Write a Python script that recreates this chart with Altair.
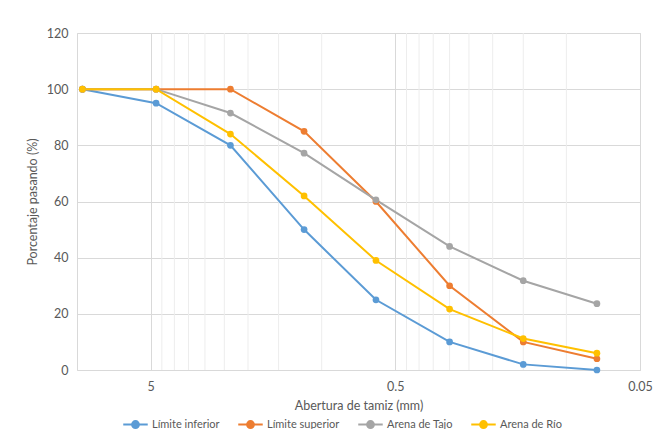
import altair as alt
import pandas as pd

# Sieve openings (mm)
sizes = [9.5, 4.75, 2.36, 1.18, 0.6, 0.3, 0.15, 0.075]
series_names = ["Límite inferior", "Límite superior", "Arena de Tajo", "Arena de Río"]
lim_inf = [100, 95, 80, 50, 25, 10, 2, 0]
lim_sup = [100, 100, 100, 85, 60, 30, 10, 4]
tajo = [100, 100, 91.5, 77.2, 60.6, 44.0, 31.8, 23.6]
rio = [100, 100, 84, 62, 39, 21.7, 11.2, 6]
colors = ["#5B9BD5", "#ED7D31", "#A5A5A5", "#FFC000"]

major_ticks = [5, 0.5, 0.05]
minor_ticks = [4.5, 4, 3.5, 3, 2.5, 2, 1.5, 1,
               0.45, 0.4, 0.35, 0.3, 0.25, 0.2, 0.15, 0.1]
y_ticks = [0, 20, 40, 60, 80, 100, 120]

rows = []
for name, vals in zip(series_names, [lim_inf, lim_sup, tajo, rio]):
    for s, v in zip(sizes, vals):
        rows.append({"serie": name, "abertura": s, "pasa": v, "orden": series_names.index(name)})
df = pd.DataFrame(rows)
minor_df = pd.DataFrame({"x": minor_ticks})

FONT = "Lato"
TXT = "#595959"
FS = 12.5

xscale = alt.Scale(type="log", domain=[0.05, 10], reverse=True, nice=False)
yscale = alt.Scale(domain=[0, 120], nice=False)


def circ(r):
    return f"M{r},0A{r},{r},0,1,1,-{r},0A{r},{r},0,1,1,{r},0"


sym_path = "M-1,0L1,0" + circ(0.28) + circ(0.19) + circ(0.1)

minor = alt.Chart(minor_df).mark_rule(color="#EDEDED", strokeWidth=1).encode(
    x=alt.X("x:Q", scale=xscale)
)

color = alt.Color(
    "serie:N",
    scale=alt.Scale(domain=series_names, range=colors),
    legend=alt.Legend(
        title=None,
        orient="none",
        direction="horizontal",
        legendX=45,
        legendY=378,
        symbolType=sym_path,
        symbolSize=600,
        symbolStrokeWidth=2,
        symbolOpacity=1,
        labelFont=FONT,
        labelFontSize=11,
        labelColor=TXT,
        labelOffset=3,
        columnPadding=14,
        padding=0,
    ),
)

base = alt.Chart(df).encode(
    x=alt.X(
        "abertura:Q",
        scale=xscale,
        axis=alt.Axis(
            values=major_ticks,
            title="Abertura de tamiz (mm)",
            labelExpr="datum.value == 5 ? '5' : datum.value == 0.5 ? '0.5' : '0.05'",
            grid=True,
            gridColor="#D9D9D9",
            domain=False,
            ticks=False,
            tickSize=0,
            labelFlush=False,
            labelPadding=10,
            titlePadding=7,
        ),
    ),
    y=alt.Y(
        "pasa:Q",
        scale=yscale,
        axis=alt.Axis(
            values=y_ticks,
            title="Porcentaje pasando (%)",
            grid=True,
            gridColor="#D9D9D9",
            domain=False,
            ticks=False,
            tickSize=0,
            labelPadding=9,
            titlePadding=7,
        ),
    ),
    color=color,
    order=alt.Order("orden:Q"),
)

lines = base.mark_line(strokeWidth=2)
points = base.mark_point(filled=True, size=45, opacity=1)

chart = alt.layer(minor, lines, points).properties(
    width=563,
    height=337,
    autosize=alt.AutoSizeParams(type="none"),
    padding={"left": 69, "top": 25, "right": 21, "bottom": 59},
).configure_view(
    stroke="#D9D9D9", strokeWidth=1
).configure_axis(
    labelFont=FONT, labelFontSize=FS, labelColor=TXT,
    titleFont=FONT, titleFontSize=FS, titleColor=TXT, titleFontWeight="normal",
)

chart.save("out.html", embed_options={"renderer": "svg", "actions": False})
